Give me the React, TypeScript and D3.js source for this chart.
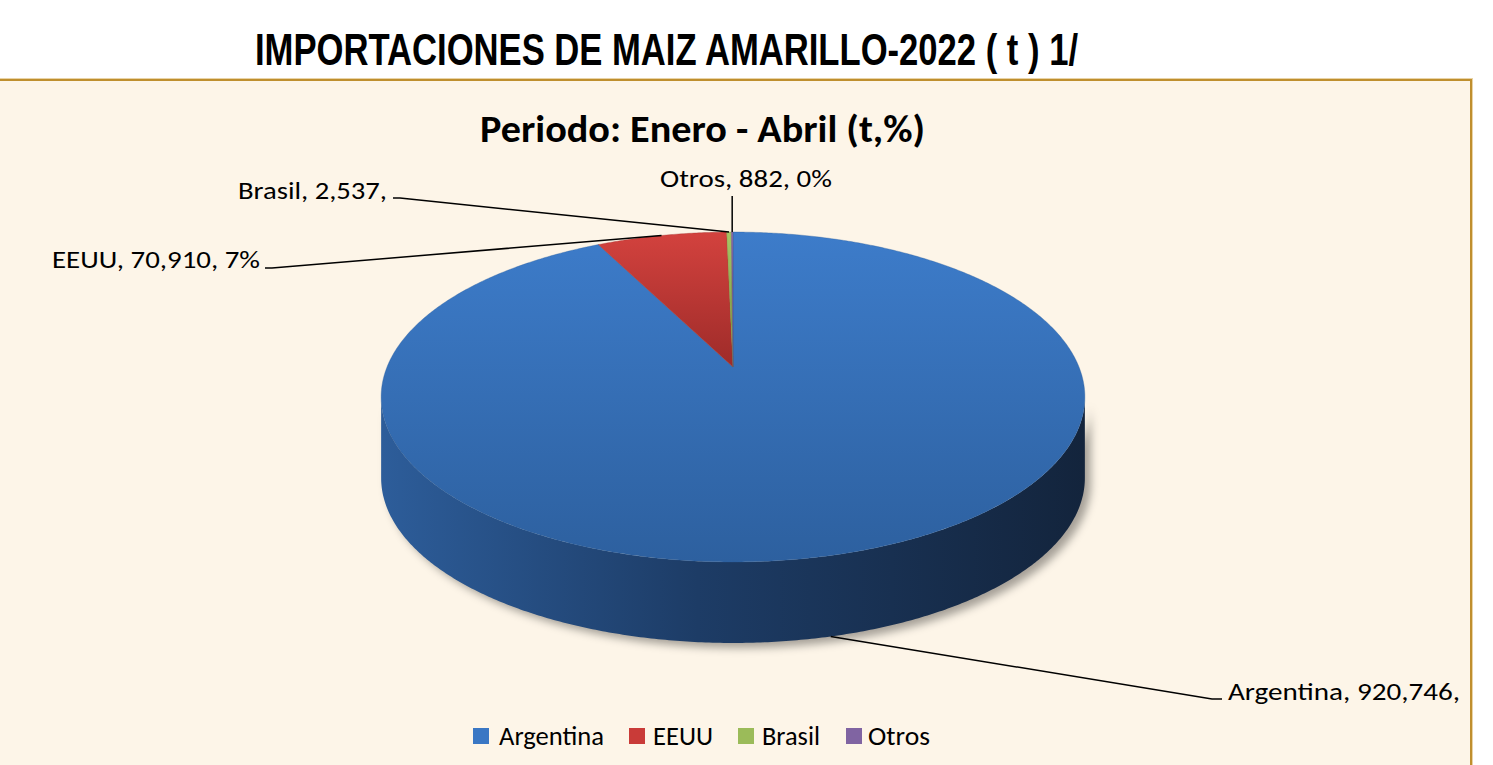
import React from "react";
import * as d3 from "d3";

const categories = ["Argentina", "EEUU", "Brasil", "Otros"];
const values = [920746, 70910, 2537, 882];
const labelTexts = ["Argentina, 920,746,", "EEUU, 70,910, 7%", "Brasil, 2,537,", "Otros, 882, 0%"];
const colors = ["#3A77C4", "#C93B38", "#9BBB59", "#8064A2"];
const colorsDark = ["#2D5F9E", "#A02C2A", "#76923C", "#5F4A7B"];

const W = 1493;
const H = 765;
// pie geometry (perspective projection of a circle)
const CX = 733;
const CY = 367;
const A = 346;
const B = 159.5;
const K = -0.1818;
const DEPTH = 81;

function proj(a: number, r = 1, dz = 0): [number, number] {
  const u = r * Math.sin(a);
  const v = -r * Math.cos(a);
  const s = 1 / (1 + K * v);
  return [CX + A * u * s, CY + B * v * s + dz];
}

function arcPoints(a0: number, a1: number, dz = 0): [number, number][] {
  const n = Math.max(2, Math.ceil(Math.abs(a1 - a0) / (Math.PI / 360)));
  const pts: [number, number][] = [];
  for (let i = 0; i <= n; i++) pts.push(proj(a0 + ((a1 - a0) * i) / n, 1, dz));
  return pts;
}

export default function App() {
  const pie = d3.pie<number>().sort(null).startAngle(0).endAngle(2 * Math.PI);
  const arcs = pie(values);
  const line = d3.line();

  const topPaths = arcs.map((d) => {
    const pts: [number, number][] = [[CX, CY], ...arcPoints(d.startAngle, d.endAngle)];
    return line(pts) + "Z";
  });

  // silhouette angles
  const aR = Math.acos(K);
  const aL = 2 * Math.PI - aR;
  const sideTop = arcPoints(aR, aL);
  const sideBot = arcPoints(aL, aR, DEPTH);
  const sidePath = line([...sideTop, ...sideBot]) + "Z";

  const mid = arcs.map((d) => (d.startAngle + d.endAngle) / 2);
  const pArg = proj(mid[0], 1, DEPTH);
  const pUS = proj(mid[1]);
  const pBr = proj(mid[2]);
  const pOt = proj(mid[3]);

  const labelFont = "Carlito, Calibri, Lato, sans-serif";

  const legendItems = [
    { sx: 473, tx: 499, tw: 105 },
    { sx: 629, tx: 653, tw: 60 },
    { sx: 738, tx: 762, tw: 58 },
    { sx: 846, tx: 868, tw: 62 },
  ];

  return (
    <svg width={W} height={H} style={{ position: "absolute", left: 0, top: 0 }}>
      <defs>
        <linearGradient id="gTop0" x1="0" y1="232" x2="0" y2="562" gradientUnits="userSpaceOnUse">
          <stop offset="0" stopColor="#3D7CCA" />
          <stop offset="1" stopColor="#2D609F" />
        </linearGradient>
        <linearGradient id="gTop1" x1="0" y1="232" x2="0" y2="367" gradientUnits="userSpaceOnUse">
          <stop offset="0" stopColor="#D3423E" />
          <stop offset="1" stopColor="#9E2B29" />
        </linearGradient>
        <linearGradient id="gTop2" x1="0" y1="232" x2="0" y2="367" gradientUnits="userSpaceOnUse">
          <stop offset="0" stopColor="#A6C665" />
          <stop offset="1" stopColor="#76923C" />
        </linearGradient>
        <linearGradient id="gTop3" x1="0" y1="232" x2="0" y2="367" gradientUnits="userSpaceOnUse">
          <stop offset="0" stopColor="#8A6DAE" />
          <stop offset="1" stopColor="#5F4A7B" />
        </linearGradient>
        <linearGradient id="gSide" x1="381" y1="0" x2="1085" y2="0" gradientUnits="userSpaceOnUse">
          <stop offset="0" stopColor="#2D5D9A" />
          <stop offset="0.45" stopColor="#1D3C66" />
          <stop offset="1" stopColor="#13243C" />
        </linearGradient>
        <filter id="shadow" x="-10%" y="-10%" width="120%" height="130%">
          <feGaussianBlur stdDeviation="4" />
        </filter>
      </defs>

      <rect x={0} y={0} width={W} height={H} fill="#FFFFFF" />
      <rect x={-10} y={80} width={1481} height={720} fill="#FDF5E8" stroke="#E9D3A6" strokeWidth={4} />
      <rect x={-10} y={80} width={1481} height={720} fill="#FDF5E8" stroke="#BF8F2E" strokeWidth={2} />

      <text
        x={255}
        y={65}
        fontFamily="'Liberation Sans Narrow', 'Arial Narrow', Arial, sans-serif"
        fontWeight="bold"
        fontSize={45}
        textLength={823}
        lengthAdjust="spacingAndGlyphs"
        fill="#000"
      >
        IMPORTACIONES DE MAIZ AMARILLO-2022 ( t ) 1/
      </text>

      <text
        x={480}
        y={142}
        fontFamily={labelFont}
        fontWeight="900"
        fontSize={38}
        textLength={445}
        lengthAdjust="spacingAndGlyphs"
        fill="#000"
      >
        Periodo: Enero - Abril (t,%)
      </text>

      {/* shadow */}
      <path d={sidePath} transform="translate(6,5)" fill="rgba(0,0,0,0.35)" filter="url(#shadow)" />

      {/* side wall */}
      <path d={sidePath} fill="url(#gSide)" />

      {/* top faces */}
      {topPaths.map((p, i) => (
        <path key={categories[i]} d={p} fill={`url(#gTop${i})`} stroke={colorsDark[i]} strokeWidth={0.6} strokeOpacity={0.6} />
      ))}

      {/* leader lines */}
      <g fill="none" stroke="#000" strokeWidth={1.5}>
        <polyline points={`${pArg[0]},${pArg[1]} 1212,699 1222,699`} />
        <polyline points={`${pUS[0]},${pUS[1]} 272,268 265,268`} />
        <polyline points={`${pBr[0]},${pBr[1]} 400,198 393,198`} />
        <polyline points={`${pOt[0]},${pOt[1]} ${pOt[0]},196`} />
      </g>

      {/* data labels */}
      <g fontFamily={labelFont} fontSize={24.5} fill="#000">
        <text x={1228} y={700} textLength={232} lengthAdjust="spacingAndGlyphs">{labelTexts[0]}</text>
        <text x={52} y={268} textLength={208} lengthAdjust="spacingAndGlyphs">{labelTexts[1]}</text>
        <text x={238} y={199} textLength={149} lengthAdjust="spacingAndGlyphs">{labelTexts[2]}</text>
        <text x={660} y={187} textLength={172} lengthAdjust="spacingAndGlyphs">{labelTexts[3]}</text>
      </g>

      {/* legend */}
      <g fontFamily={labelFont} fontSize={26} fill="#000">
        {legendItems.map((it, i) => (
          <g key={categories[i]}>
            <rect x={it.sx} y={728} width={16} height={16} fill={colors[i]} />
            <text x={it.tx} y={745} textLength={it.tw} lengthAdjust="spacingAndGlyphs">{categories[i]}</text>
          </g>
        ))}
      </g>
    </svg>
  );
}
